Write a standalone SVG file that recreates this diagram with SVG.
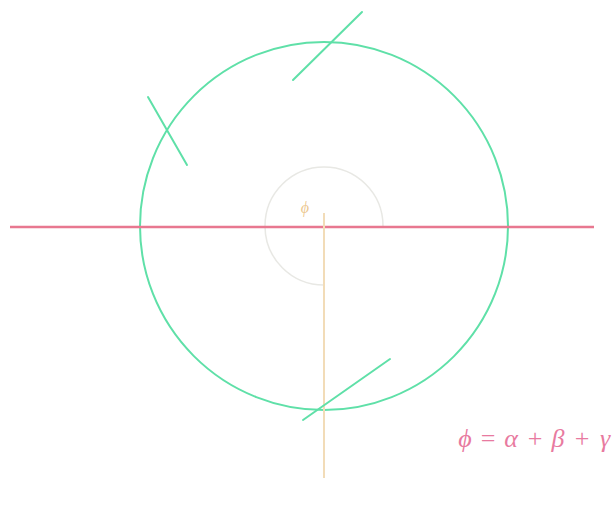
<svg xmlns="http://www.w3.org/2000/svg" width="615" height="508" viewBox="0 0 615 508">
<style>
.g{stroke:#5fe0a8;stroke-width:2;fill:none;stroke-linecap:round}
</style>
<rect width="615" height="508" fill="#ffffff"/>
<g id="angle-arc"><path d="M383,226 A59,59 0 1 0 324,285" fill="none" stroke="#e8e8e4" stroke-width="1.5"/></g>
<g id="big-circle"><circle cx="324" cy="226" r="184" class="g"/></g>
<g id="connectors">
<line x1="10" y1="227" x2="594" y2="227" stroke="#e87890" stroke-width="2.5"/>
<line x1="324" y1="213" x2="324" y2="478" stroke="#f2dcb8" stroke-width="2"/>
<line x1="293" y1="80" x2="362" y2="12" class="g"/>
<line x1="148" y1="97" x2="187" y2="165" class="g"/>
<line x1="303" y1="420" x2="390" y2="359" class="g"/>
</g>
<g id="phi-label"><text x="305" y="213" font-family="Liberation Serif, serif" font-style="italic" font-size="16" fill="#ecc890" text-anchor="middle">ϕ</text></g>
<g id="equation" font-family="Liberation Serif, serif" font-style="italic" font-size="26" fill="#e87aa0" text-anchor="middle"><text y="447"><tspan x="465">ϕ</tspan><tspan x="488" font-style="normal">=</tspan><tspan x="511">α</tspan><tspan x="535" font-style="normal">+</tspan><tspan x="558">β</tspan><tspan x="582" font-style="normal">+</tspan><tspan x="605">γ</tspan></text></g>
</svg>
